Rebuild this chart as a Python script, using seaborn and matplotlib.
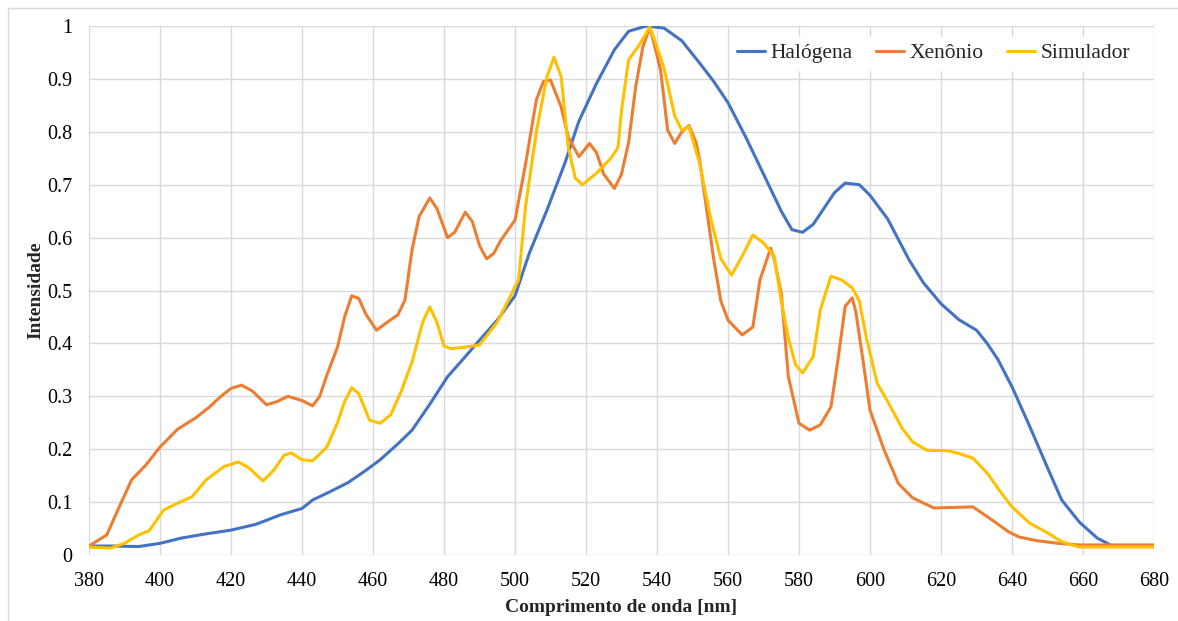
import pandas as pd
import matplotlib
matplotlib.use('agg')
import matplotlib.pyplot as plt
import seaborn as sns
from matplotlib.patches import Rectangle

# Values
halogena_nm = [380, 386, 394, 400, 406, 413, 420, 427, 434, 440, 443, 448, 453, 458, 462,
               467, 471, 476, 481, 486, 490, 495, 500, 504, 509, 514, 518, 523, 528, 532,
               537, 542, 547, 552, 556, 560, 565, 570, 575, 578, 581, 584, 587, 590, 593,
               597, 600, 605, 611, 615, 620, 625, 630, 633, 636, 640, 645, 650, 654, 659,
               664, 668, 680]
halogena_val = [0.017, 0.017, 0.016, 0.022, 0.032, 0.040, 0.047, 0.058, 0.076, 0.088, 0.104,
                0.120, 0.137, 0.160, 0.180, 0.210, 0.236, 0.285, 0.337, 0.375, 0.406, 0.444,
                0.490, 0.570, 0.652, 0.740, 0.820, 0.892, 0.955, 0.990, 1.000, 0.996, 0.972,
                0.930, 0.895, 0.855, 0.790, 0.720, 0.650, 0.615, 0.610, 0.625, 0.655, 0.685,
                0.703, 0.700, 0.680, 0.635, 0.558, 0.515, 0.475, 0.445, 0.425, 0.400, 0.370,
                0.318, 0.243, 0.165, 0.104, 0.062, 0.032, 0.018, 0.018]

xenonio_nm = [380, 385, 389, 392, 396, 400, 405, 410, 414, 417, 420, 423, 426, 430, 433,
              436, 440, 443, 445, 447, 450, 452, 454, 456, 458, 461, 464, 467, 469, 471,
              473, 476, 478, 481, 483, 486, 488, 490, 492, 494, 496, 500, 503, 506, 508,
              510, 513, 515, 518, 521, 523, 525, 528, 530, 532, 534, 536, 538, 541, 543,
              545, 547, 549, 551, 552, 556, 558, 560, 562, 564, 567, 569, 572, 573, 575,
              577, 580, 583, 586, 589, 591, 593, 595, 596, 598, 600, 604, 608, 612, 618,
              624, 629, 634, 639, 642, 647, 653, 659, 680]
xenonio_val = [0.017, 0.038, 0.098, 0.142, 0.170, 0.204, 0.238, 0.259, 0.280, 0.299, 0.315,
               0.321, 0.310, 0.284, 0.290, 0.300, 0.292, 0.282, 0.300, 0.340, 0.393, 0.450,
               0.490, 0.485, 0.455, 0.425, 0.440, 0.454, 0.482, 0.577, 0.640, 0.675, 0.655,
               0.600, 0.610, 0.648, 0.630, 0.585, 0.560, 0.570, 0.595, 0.633, 0.740, 0.860,
               0.895, 0.898, 0.847, 0.790, 0.753, 0.778, 0.760, 0.720, 0.693, 0.720, 0.780,
               0.885, 0.960, 0.998, 0.917, 0.803, 0.778, 0.800, 0.812, 0.780, 0.747, 0.558,
               0.480, 0.444, 0.430, 0.416, 0.431, 0.520, 0.580, 0.560, 0.495, 0.337, 0.249,
               0.236, 0.246, 0.280, 0.370, 0.470, 0.486, 0.460, 0.369, 0.274, 0.198, 0.135,
               0.108, 0.089, 0.090, 0.091, 0.068, 0.044, 0.034, 0.027, 0.022, 0.019, 0.019]

simulador_nm = [380, 386, 390, 394, 397, 401, 405, 409, 413, 418, 422, 425, 429, 432, 435,
                437, 440, 443, 447, 450, 452, 454, 456, 459, 462, 465, 468, 471, 474, 476,
                478, 480, 482, 486, 490, 495, 498, 501, 503, 506, 509, 511, 513, 515, 517,
                519, 523, 527, 529, 530, 532, 535, 538, 540, 542, 545, 547, 549, 552, 555,
                558, 561, 564, 567, 570, 573, 575, 577, 579, 581, 584, 586, 589, 592, 595,
                597, 599, 602, 605, 609, 612, 616, 622, 625, 629, 633, 637, 640, 645, 650,
                654, 659, 680]
simulador_val = [0.015, 0.013, 0.022, 0.038, 0.046, 0.085, 0.098, 0.110, 0.142, 0.167, 0.176,
                 0.165, 0.140, 0.160, 0.189, 0.193, 0.180, 0.178, 0.204, 0.250, 0.290, 0.316,
                 0.305, 0.255, 0.249, 0.265, 0.310, 0.365, 0.440, 0.469, 0.440, 0.395, 0.390,
                 0.393, 0.397, 0.440, 0.480, 0.520, 0.660, 0.800, 0.904, 0.941, 0.904, 0.771,
                 0.712, 0.700, 0.722, 0.750, 0.770, 0.840, 0.936, 0.964, 0.998, 0.960, 0.920,
                 0.830, 0.803, 0.810, 0.740, 0.640, 0.560, 0.529, 0.565, 0.605, 0.590, 0.565,
                 0.480, 0.410, 0.360, 0.344, 0.375, 0.463, 0.527, 0.520, 0.505, 0.480, 0.410,
                 0.325, 0.290, 0.240, 0.214, 0.198, 0.197, 0.192, 0.183, 0.155, 0.117, 0.091,
                 0.060, 0.042, 0.025, 0.015, 0.015]

series_names = ["Halógena", "Xenônio", "Simulador"]
colors = ["#4472C4", "#ED7D31", "#FFC000"]

df = pd.concat([
    pd.DataFrame({"nm": halogena_nm, "val": halogena_val, "fonte": series_names[0]}),
    pd.DataFrame({"nm": xenonio_nm, "val": xenonio_val, "fonte": series_names[1]}),
    pd.DataFrame({"nm": simulador_nm, "val": simulador_val, "fonte": series_names[2]}),
])

sns.set_theme(style="whitegrid")
plt.rcParams['font.family'] = ['Liberation Serif', 'DejaVu Serif']

fig = plt.figure(figsize=(11.78, 6.21), dpi=100)
ax = fig.add_axes([89/1178, 1 - 555/621, (1154 - 89)/1178, (555 - 26)/621])

sns.lineplot(data=df, x="nm", y="val", hue="fonte", palette=colors, sort=False,
             linewidth=2.2, ax=ax, estimator=None)

ax.set_xlim(380, 680)
ax.set_ylim(0, 1)
ax.set_xticks(range(380, 681, 20))
ax.set_yticks([i / 10 for i in range(11)])
ax.set_yticklabels(["0"] + ["0.%d" % i for i in range(1, 10)] + ["1"])
ax.grid(True, color="#D9D9D9", linewidth=1.0)
for s in ax.spines.values():
    s.set_visible(False)
ax.tick_params(axis="both", length=0, labelsize=14.5, colors="black")
ax.tick_params(axis="x", pad=12)
ax.tick_params(axis="y", pad=12)

ax.set_xlabel("Comprimento de onda [nm]", fontsize=14, fontweight="bold", labelpad=6)
ax.set_ylabel("Intensidade", fontsize=14, fontweight="bold", labelpad=2)

leg = ax.legend(loc="upper right", bbox_to_anchor=(0.994, 1.0), ncol=3, frameon=True,
                fontsize=15.5, handlelength=1.3, handletextpad=0.25, columnspacing=1.1,
                borderpad=0.3)
leg.get_frame().set_facecolor("white")
leg.get_frame().set_edgecolor("white")
leg.get_frame().set_alpha(1.0)

# outer chart border
fig.patches.append(Rectangle((8/1178, -0.1), 1.2, 1 - 8/621 + 0.1, transform=fig.transFigure,
                             fill=False, edgecolor="#D9D9D9", linewidth=1.0))

fig.savefig("out.png", dpi=100)
